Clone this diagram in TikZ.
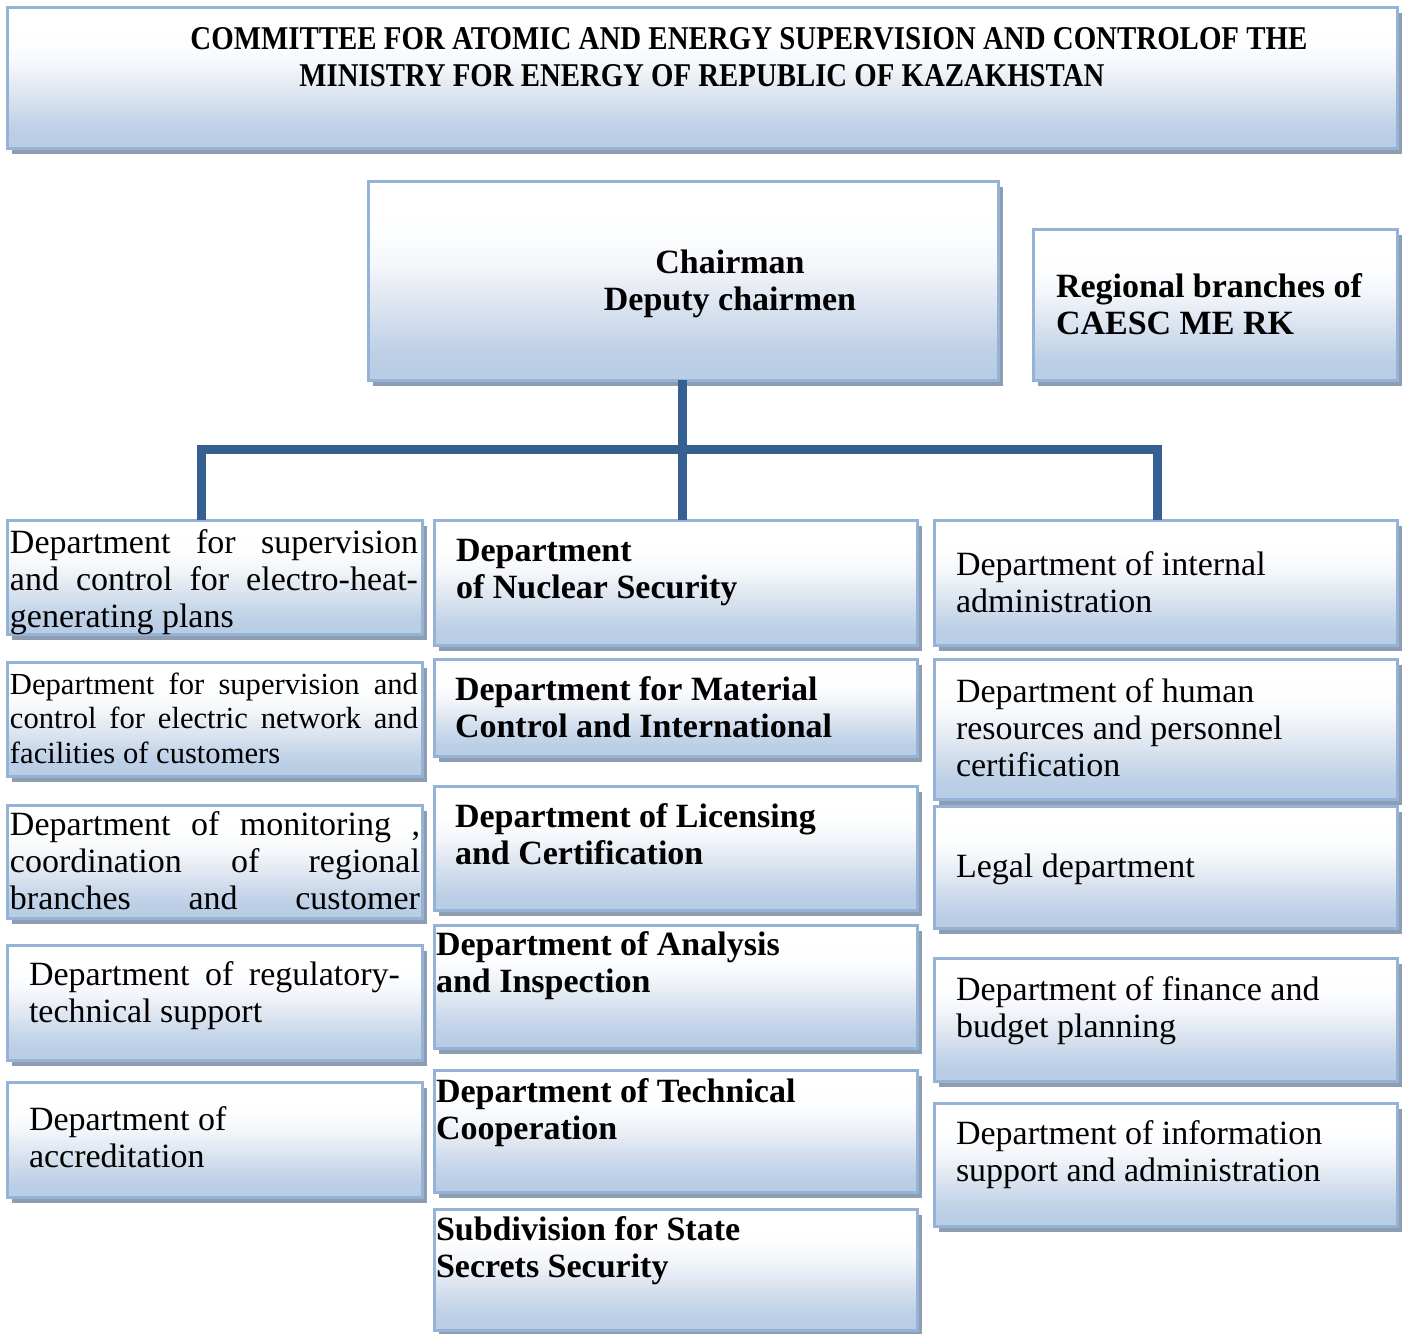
\documentclass[tikz,border=0pt]{standalone}
\usepackage{fontspec}
\setmainfont{Liberation Serif}
\usepackage{graphicx}
\usetikzlibrary{shadows}
\definecolor{boxborder}{HTML}{95B3D7}
\definecolor{boxbottom}{HTML}{B9CDE5}
\definecolor{gA}{HTML}{BCCFE6}
\definecolor{gB}{HTML}{CCDAEB}
\definecolor{gC}{HTML}{E1E8F2}
\definecolor{gD}{HTML}{F4F6FA}
\definecolor{gE}{HTML}{FDFEFE}
\definecolor{shadowgrey}{HTML}{8E9DB0}
\definecolor{connblue}{HTML}{376092}
\pgfdeclareverticalshading{boxshade}{100bp}{color(0bp)=(boxbottom); color(27bp)=(boxbottom); color(31bp)=(gA); color(38bp)=(gB); color(46bp)=(gC); color(54bp)=(gD); color(62bp)=(gE); color(70bp)=(white); color(100bp)=(white)}
\newcommand\mytopstrut{\rule{0pt}{13pt}}
\newcommand\dbox[5]{\node[box, minimum width={(#4-#2)*0.5pt}, minimum height={(#5-#3)*0.5pt}] (#1) at ({(#2+#4)/2},{(#3+#5)/2}) {};}
\tikzset{
  box/.style={rectangle, draw=boxborder, line width=1.5pt, shade, shading=boxshade, inner sep=0pt, outer sep=0pt,
    drop shadow={shadow xshift=2.5pt, shadow yshift=-3pt, fill=shadowgrey, draw=none, opacity=1}},
  txt/.style={inner sep=0pt, outer sep=0pt, align=left, anchor=north west, font=\fontsize{17}{18.5}\selectfont},
  smalltxt/.style={txt, font=\fontsize{15.3}{17.25}\selectfont},
  btxt/.style={txt, font=\fontsize{17}{18.5}\selectfont\bfseries},
  conn/.style={draw=connblue, line width=4.5pt},
}
\begin{document}
\begin{tikzpicture}[x=0.5pt, y=-0.5pt]
\fill[white] (0,0) rectangle (1406,1333);
\useasboundingbox (0,0) rectangle (1406,1333);

% boxes
\dbox{title}{7}{7}{1397}{148}
\dbox{chair}{368}{181}{998}{380}
\dbox{reg}{1033}{229}{1397}{380}
\dbox{L1}{7}{520}{422}{634}
\dbox{L2}{7}{662}{422}{776}
\dbox{L3}{7}{805}{422}{918}
\dbox{L4}{7}{945}{422}{1060}
\dbox{L5}{7}{1082}{422}{1197}
\dbox{M1}{434}{520}{917}{645}
\dbox{M2}{434}{659}{917}{756}
\dbox{M3}{434}{786}{917}{910}
\dbox{M4}{434}{925}{917}{1048}
\dbox{M5}{434}{1070}{917}{1192}
\dbox{M6}{434}{1209}{917}{1330}
\dbox{R1}{934}{520}{1397}{645}
\dbox{R2}{934}{659}{1397}{799}
\dbox{R3}{934}{806}{1397}{928}
\dbox{R4}{934}{958}{1397}{1081}
\dbox{R5}{934}{1103}{1397}{1226}

% connectors
\coordinate (lt) at (201,449);
\coordinate (rt) at (1157,449);
\coordinate (hub) at (682,449);
\draw[conn] (chair.south -| hub) -- (hub |- M1.north);
\draw[conn] (lt |- L1.north) -- (lt) -- (rt) -- (rt |- R1.north);

% title
\node[inner sep=0pt, anchor=base west] (titlea) at (190,49) {\resizebox{558.5pt}{11pt}{\bfseries COMMITTEE FOR ATOMIC AND ENERGY SUPERVISION AND CONTROLOF THE}};
\node[inner sep=0pt, anchor=base west] (titleb) at (299,86) {\resizebox{402.5pt}{11pt}{\bfseries MINISTRY FOR ENERGY OF REPUBLIC OF KAZAKHSTAN}};

% top texts
\node[btxt, align=center, anchor=north] (chairt) at (730,247) {\mytopstrut Chairman\\Deputy chairmen};
\node[btxt] (regt) at (1056,271) {\mytopstrut Regional branches of\\CAESC ME RK};

% left column
\node[txt] (L1t) at (10,527) {\mytopstrut\makebox[204pt][s]{Department for supervision}\\\makebox[204pt][s]{and control for electro-heat-}\\generating plans};
\node[smalltxt] (L2t) at (10,668) {\mytopstrut\makebox[204pt][s]{Department for supervision and}\\\makebox[204pt][s]{control for electric network and}\\facilities of customers};
\node[txt] (L3t) at (10,809) {\mytopstrut\makebox[205pt][s]{Department of monitoring ,}\\\makebox[205pt][s]{coordination of regional}\\\makebox[205pt][s]{branches and customer}};
\node[txt] (L4t) at (29,959) {\mytopstrut\makebox[185.5pt][s]{Department of regulatory-}\\technical support};
\node[txt] (L5t) at (29,1104) {\mytopstrut Department of\\accreditation};

% middle column
\node[btxt] (M1t) at (456,535) {\mytopstrut Department\\of Nuclear Security};
\node[btxt] (M2t) at (455,674) {\mytopstrut Department for Material\\Control and International};
\node[btxt] (M3t) at (455,801) {\mytopstrut Department of Licensing\\and Certification};
\node[btxt] (M4t) at (436,929) {\mytopstrut Department of Analysis\\and Inspection};
\node[btxt] (M5t) at (436,1076) {\mytopstrut Department of Technical\\Cooperation};
\node[btxt] (M6t) at (436,1214) {\mytopstrut Subdivision for State\\Secrets Security};

% right column
\node[txt] (R1t) at (956,549) {\mytopstrut Department of internal\\administration};
\node[txt] (R2t) at (956,676) {\mytopstrut Department of human\\resources and personnel\\certification};
\node[txt] (R3t) at (956,851) {\mytopstrut Legal department};
\node[txt] (R4t) at (956,974) {\mytopstrut Department of finance and\\budget planning};
\node[txt] (R5t) at (956,1118) {\mytopstrut Department of information\\support and administration};
\end{tikzpicture}
\end{document}
